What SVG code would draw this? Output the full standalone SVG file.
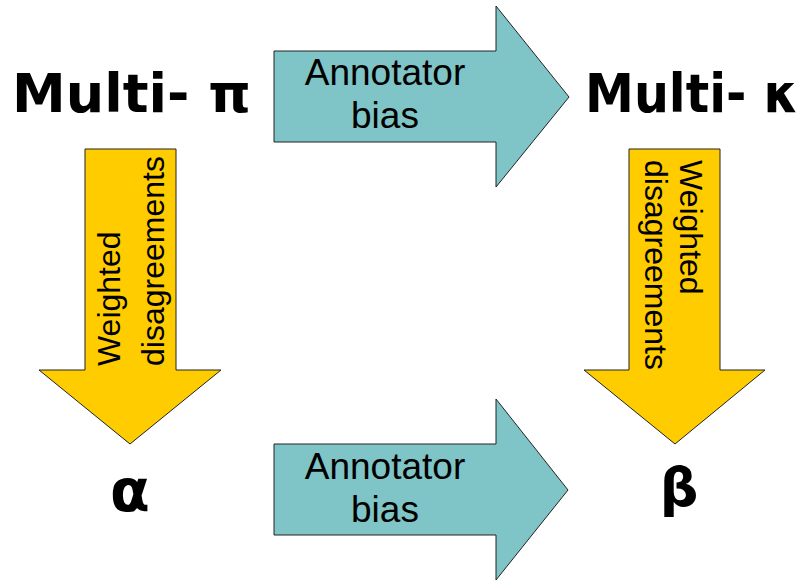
<svg xmlns="http://www.w3.org/2000/svg" width="807" height="581" viewBox="0 0 807 581">
<style>
.h{fill:#7FC4C6;stroke:#222;stroke-width:1}
.v{fill:#FFCC00;stroke:#222;stroke-width:1}
.t{font-family:"Liberation Sans",Arial,sans-serif;fill:#000}
.a{font-size:37px;text-anchor:middle}
.w{font-size:32px}
.b{font-family:"DejaVu Sans",sans-serif;font-weight:bold;fill:#000}
</style>
<rect width="807" height="581" fill="#fff"/>
<g id="connectors">
<g id="arrow-top">
<path class="h" d="M274,51 H496 V6 L569,97 L496,187 V142 H274 Z"/>
<text class="t a" x="385" y="85">Annotator</text>
<text class="t a" x="385" y="128">bias</text>
</g>
<g id="arrow-bottom">
<path class="h" d="M274,444 H496 V399 L568,490 L496,580 V535 H274 Z"/>
<text class="t a" x="385" y="479">Annotator</text>
<text class="t a" x="385" y="522">bias</text>
</g>
<g id="arrow-left">
<path class="v" d="M85,149 H176 V370 H221 L130,444 L39,370 H85 Z"/>
<text class="t w" transform="translate(120,366) rotate(-90)">Weighted</text>
<text class="t w" transform="translate(164,366) rotate(-90)">disagreements</text>
</g>
<g id="arrow-right">
<path class="v" d="M629,149 H720 V370 H765 L675,444 L584,370 H629 Z"/>
<text class="t w" transform="translate(680,160) rotate(90)">Weighted</text>
<text class="t w" transform="translate(645,160) rotate(90)">disagreements</text>
</g>
</g>
<g id="multi-pi"><text class="b" x="12" y="112" font-size="54">Multi- π</text></g>
<g id="multi-kappa"><text class="b" transform="translate(585,112) scale(0.91,1)" font-size="54">Multi- κ</text></g>
<g id="alpha"><text class="b" x="130" y="511" font-size="58" text-anchor="middle">α</text></g>
<g id="beta"><text class="b" x="679" y="506" font-size="54" text-anchor="middle">β</text></g>
</svg>
